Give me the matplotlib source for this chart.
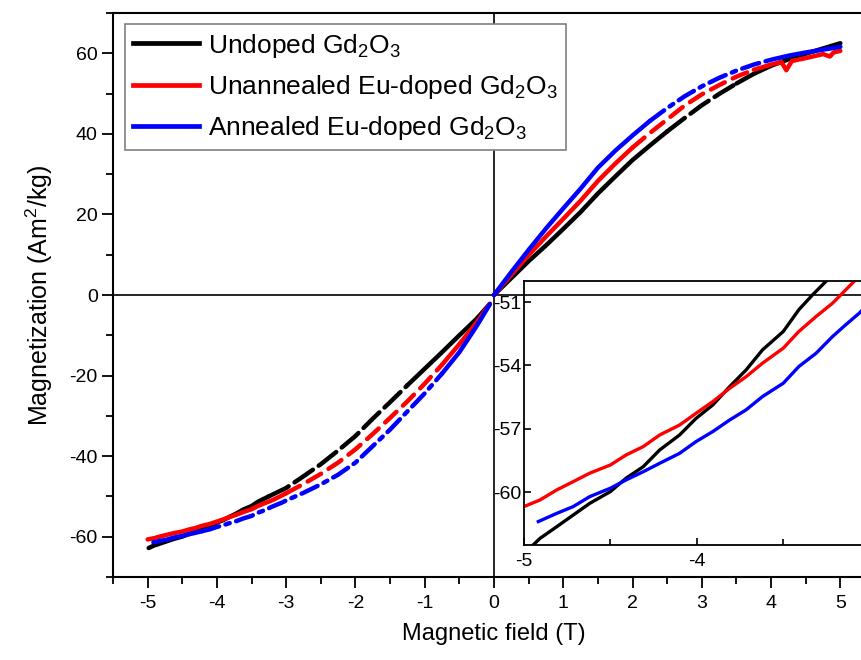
import numpy as np
import matplotlib
matplotlib.use("Agg")
import matplotlib.pyplot as plt
from matplotlib.ticker import MultipleLocator, FixedLocator

plt.rcParams['font.family'] = ['Liberation Sans', 'DejaVu Sans']
plt.rcParams['mathtext.fontset'] = 'custom'
plt.rcParams['mathtext.rm'] = 'Liberation Sans'
plt.rcParams['mathtext.it'] = 'Liberation Sans:italic'
plt.rcParams['axes.unicode_minus'] = False

# --- data ---
labels = ['Undoped Gd$_2$O$_3$',
          'Unannealed Eu-doped Gd$_2$O$_3$',
          'Annealed Eu-doped Gd$_2$O$_3$']
colors = ['black', 'red', 'blue']

# negative branch, fine part (-5 .. -3)
H_black_lo = [-4.985, -4.908, -4.81, -4.715, -4.62, -4.50, -4.41, -4.31, -4.215, -4.10,
              -4.004, -3.908, -3.81, -3.715, -3.62, -3.50, -3.41, -3.33, -3.25]
M_black_lo = [-62.8, -62.19, -61.63, -61.08, -60.53, -59.97, -59.34, -58.79, -58.0, -57.29,
              -56.50, -55.87, -55.0, -54.21, -53.26, -52.39, -51.36, -50.65, -49.99]
H_red_lo = [-5.0, -4.908, -4.81, -4.715, -4.62, -4.50, -4.41, -4.31, -4.215, -4.10,
            -4.004, -3.908, -3.81, -3.715, -3.62, -3.50, -3.41, -3.31, -3.215, -3.10]
M_red_lo = [-60.68, -60.37, -59.89, -59.50, -59.10, -58.71, -58.24, -57.84, -57.29, -56.82,
            -56.26, -55.71, -55.08, -54.53, -53.89, -53.18, -52.39, -51.68, -51.05, -50.10]
H_blue_lo = [-4.917, -4.81, -4.715, -4.62, -4.50, -4.41, -4.31, -4.215, -4.10, -4.004,
             -3.908, -3.81, -3.715, -3.62, -3.50, -3.41, -3.31, -3.215, -3.14, -3.06]
M_blue_lo = [-61.39, -61.0, -60.68, -60.21, -59.81, -59.42, -59.03, -58.63, -58.16, -57.60,
             -57.13, -56.58, -56.10, -55.47, -54.84, -54.05, -53.42, -52.63, -52.08, -51.52]

# negative branch, -3 .. 0
H_neg = [-3.0, -2.75, -2.5, -2.25, -2.0, -1.75, -1.5, -1.25, -1.0, -0.75, -0.5, -0.25, -0.06]
M_black_neg = [-47.9, -45.0, -42.0, -38.6, -35.0, -30.7, -26.6, -22.4, -18.3, -14.2, -10.0, -5.9, -2.2]
M_red_neg = [-49.2, -46.9, -44.4, -41.6, -38.3, -34.5, -30.5, -26.4, -22.0, -17.3, -12.2, -6.8, -2.2]
M_blue_neg = [-51.0, -49.1, -47.0, -44.6, -41.6, -37.5, -33.4, -28.9, -24.4, -19.5, -14.2, -7.7, -2.3]

# positive branch
H_pos = [0, 0.25, 0.5, 0.75, 1.0, 1.25, 1.5, 1.75, 2.0, 2.25, 2.5, 2.75, 3.0,
         3.25, 3.5, 3.75, 4.0, 4.25, 4.5, 4.75, 5.0]
M_black_pos = [0, 4.2, 8.4, 12.3, 16.4, 20.6, 25.2, 29.4, 33.5, 37.1, 40.6, 43.9, 47.1,
               49.9, 52.5, 54.9, 56.9, 58.5, 59.9, 61.2, 62.5]
M_blue_pos = [0, 5.7, 11.2, 16.5, 21.5, 26.4, 31.6, 35.8, 39.6, 43.2, 46.4, 49.3, 51.8,
              53.9, 55.7, 57.2, 58.4, 59.4, 60.2, 60.9, 61.6]
H_red_pos = [0, 0.25, 0.5, 0.75, 1.0, 1.25, 1.5, 1.75, 2.0, 2.25, 2.5, 2.75, 3.0,
             3.25, 3.5, 3.75, 4.0, 4.15, 4.22, 4.3, 4.5, 4.75, 4.85, 4.9, 5.0]
M_red_pos = [0, 5.0, 9.9, 14.5, 18.9, 23.4, 28.3, 32.6, 36.6, 40.2, 43.6, 47.0, 49.8,
             52.1, 54.2, 55.9, 57.2, 57.8, 55.8, 58.1, 58.8, 59.8, 59.2, 60.2, 60.6]

series = [
    (H_black_lo + H_neg, M_black_lo + M_black_neg, H_pos, M_black_pos),
    (H_red_lo + H_neg, M_red_lo + M_red_neg, H_red_pos, M_red_pos),
    (H_blue_lo + H_neg, M_blue_lo + M_blue_neg, H_pos, M_blue_pos),
]

# where each curve looks broken up in the main plot
dash_styles = [(0, (5, 1.6)), (0, (3.5, 2)), (0, (4, 1.5, 1, 1.5))]
neg_gaps = [(-3.25, -1.25), (-3.0, -0.75), (-4.3, -0.75)]
pos_gaps = [(2.5, 3.5), (2.0, 3.75), (2.25, 4.0)]


def plot_split(ax, x, y, gap, color, ls, lw):
    x = np.asarray(x)
    y = np.asarray(y)
    lo, hi = gap
    idx = np.where((x >= lo) & (x <= hi))[0]
    if len(idx) == 0:
        ax.plot(x, y, color=color, lw=lw, solid_capstyle='round')
        return
    a, b = idx[0], idx[-1]
    ax.plot(x[:a + 1], y[:a + 1], color=color, lw=lw, solid_capstyle='round')
    ax.plot(x[a:b + 1], y[a:b + 1], color=color, lw=lw, ls=ls, dash_capstyle='round')
    ax.plot(x[b:], y[b:], color=color, lw=lw, solid_capstyle='round')


fig = plt.figure(figsize=(8.61, 6.60), dpi=100)
ax = fig.add_axes([113 / 861, 83 / 660, 762 / 861, 564 / 660])

for (hn, mn, hp, mp), c, ls, gn, gp in zip(series, colors, dash_styles, neg_gaps, pos_gaps):
    plot_split(ax, hn, mn, gn, c, ls, 3.2)
    plot_split(ax, hp, mp, gp, c, ls, 3.2)

ax.axhline(0, color='black', lw=1.2, zorder=1)
ax.axvline(0, color='black', lw=1.2, zorder=1)

ax.set_xlim(-5.5, 5.5)
ax.set_ylim(-70, 70)
ax.xaxis.set_major_locator(MultipleLocator(1))
ax.xaxis.set_minor_locator(MultipleLocator(0.5))
ax.yaxis.set_major_locator(MultipleLocator(20))
ax.yaxis.set_minor_locator(MultipleLocator(10))
ax.tick_params(which='both', direction='out', width=1.3, top=False, right=False)
ax.tick_params(which='major', length=8, labelsize=14, pad=3)
ax.tick_params(which='minor', length=5)
ax.tick_params(axis='x', pad=5)
for s in ax.spines.values():
    s.set_linewidth(1.5)

ax.set_xlabel('Magnetic field (T)', fontsize=17, labelpad=8)
ax.set_ylabel('Magnetization (Am$^2$/kg)', fontsize=18, labelpad=10)

handles = [plt.Line2D([], [], color=c, lw=3.4) for c in colors]
leg = ax.legend(handles, labels, loc='upper left', bbox_to_anchor=(0.016, 0.981),
                borderaxespad=0, fontsize=19, handlelength=2.5, handletextpad=0.35,
                labelspacing=0.5, borderpad=0.3, fancybox=False, edgecolor='#808080',
                framealpha=1)
leg.get_frame().set_linewidth(1.2)

# inset: zoom on the low-field end
ax_in = fig.add_axes([524 / 861, 115 / 660, 363 / 861, 264 / 660])
ax_in.patch.set_alpha(0)
for (hn, mn, hp, mp), c in zip(series, colors):
    ax_in.plot(hn, mn, color=c, lw=2.4)
ax_in.set_xlim(-5, -2.9)
ax_in.set_ylim(-62.5, -50)
ax_in.xaxis.set_major_locator(FixedLocator([-5, -4, -3]))
ax_in.xaxis.set_minor_locator(MultipleLocator(0.5))
ax_in.yaxis.set_major_locator(FixedLocator([-60, -57, -54, -51]))
ax_in.tick_params(which='both', direction='in', width=1.2, labelsize=14)
ax_in.tick_params(which='major', length=5, pad=6)
ax_in.tick_params(which='minor', length=4)
ax_in.tick_params(axis='y', pad=2)
for s in ax_in.spines.values():
    s.set_linewidth(1.3)

fig.savefig('out.png', dpi=100)
